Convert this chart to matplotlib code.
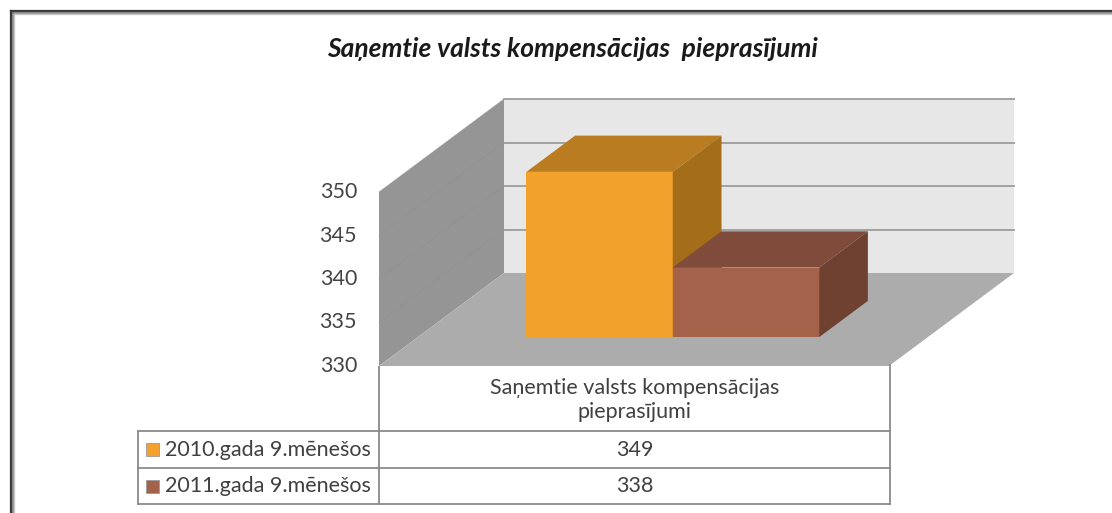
import matplotlib
matplotlib.use("Agg")
import matplotlib.pyplot as plt
from matplotlib.patches import Polygon, Rectangle

plt.rcParams['font.family'] = ['Lato', 'DejaVu Sans']

# ---------------- data ----------------
title = "Saņemtie valsts kompensācijas  pieprasījumi"
category = "Saņemtie valsts kompensācijas\npieprasījumi"
series_names = ["2010.gada 9.mēnešos", "2011.gada 9.mēnešos"]
values = [349, 338]
y_ticks = [330, 335, 340, 345, 350]

front_colors = ["#F2A12C", "#A5624B"]
top_colors = ["#BA7C20", "#7F4B3A"]
side_colors = ["#A36D1A", "#6E4131"]

# ---------------- geometry (pseudo 3D projection) ----------------
W, H = 1112, 513
fig = plt.figure(figsize=(W / 100, H / 100), dpi=100)
fig.patch.set_facecolor("white")

ax = fig.add_axes([0, 0, 1, 1])
ax.set_axis_off()
PX_X = 510.0      # pixels per category unit
PX_V = 8.7        # pixels per value unit
X0_PX, V0_PX = 379.0, 366.0   # pixel position of (x=0, v=330, depth=0)
vmin, vmax = y_ticks[0], y_ticks[-1]
ax.set_xlim(-X0_PX / PX_X, (W - X0_PX) / PX_X)
ax.set_ylim(vmin - (H - V0_PX) / PX_V, vmin + V0_PX / PX_V)

DX = 125.0 / PX_X   # depth offset in category units
DV = 93.0 / PX_V    # depth offset in value units


def P(x, v, d):
    return (x + d * DX, v + d * DV)


def poly(pts, fc, ec="none", lw=0, z=1):
    ax.add_patch(Polygon(pts, closed=True, facecolor=fc, edgecolor=ec, linewidth=lw, zorder=z))


# back wall
poly([P(0, vmin, 1), P(1, vmin, 1), P(1, vmax, 1), P(0, vmax, 1)], "#E7E7E7", z=1)
# side wall
poly([P(0, vmin, 0), P(0, vmin, 1), P(0, vmax, 1), P(0, vmax, 0)], "#959595", z=1)
# floor
poly([P(0, vmin, 0), P(1, vmin, 0), P(1, vmin, 1), P(0, vmin, 1)], "#ACACAC", z=1)

# gridlines on back wall and faint on side wall
for t in y_ticks[1:]:
    xa, ya = P(0, t, 1)
    xb, yb = P(1, t, 1)
    ax.plot([xa, xb], [ya, yb], color="#9C9C9C", lw=1.3, zorder=2)
    xc, yc = P(0, t, 0)
    ax.plot([xc, xa], [yc, ya], color="#8F8F8F", lw=0.6, alpha=0.5, zorder=2)

# bars
n = len(values)
bw = 0.287
d0, d1 = 0.31, 0.70
for i, v in enumerate(values):
    xl = 0.5 + (i - (n - 1) / 2) * bw - bw / 2
    xr = xl + bw
    z = 5 + i
    poly([P(xl, vmin, d0), P(xr, vmin, d0), P(xr, v, d0), P(xl, v, d0)], front_colors[i], z=z)
    poly([P(xl, v, d0), P(xr, v, d0), P(xr, v, d1), P(xl, v, d1)], top_colors[i], z=z)
    poly([P(xr, vmin, d0), P(xr, vmin, d1), P(xr, v, d1), P(xr, v, d0)], side_colors[i], z=z)

# tick labels
for t in y_ticks:
    x, y = P(-22 / PX_X, t, 0)
    ax.text(x, y, str(t), ha="right", va="center", fontsize=15.5, color="#444444", zorder=10)

# ---------------- overlay for frame, title and data table ----------------
ov = fig.add_axes([0, 0, 1, 1], facecolor="none")
ov.set_axis_off()
ov.set_xlim(0, W)
ov.set_ylim(H, 0)

for off, col, lw in [(0, "#3A3A3A", 1.6), (1.5, "#7A7A7A", 1.2), (3, "#C8C8C8", 1.0)]:
    ov.plot([11 + off, 11 + off], [11 + off, H], color=col, lw=lw)
    ov.plot([11 + off, W], [11 + off, 11 + off], color=col, lw=lw)

ov.text(572, 49, title, ha="center", va="center", fontsize=19, fontweight="bold",
        fontstyle="italic", color="#1A1A1A")

lc = "#8A8A8A"
tl = 1.3
x_left, x_mid, x_right = 138, 379, 890
y_top, y_h, y_r1, y_r2 = 367, 431, 468, 504
ov.plot([x_mid, x_mid], [y_top, y_r2], color=lc, lw=tl)
ov.plot([x_right, x_right], [y_top - 2, y_r2], color=lc, lw=tl)
ov.plot([x_left, x_left], [y_h, y_r2], color=lc, lw=tl)
for yy in (y_h, y_r1, y_r2):
    ov.plot([x_left, x_right], [yy, yy], color=lc, lw=tl)

cx = (x_mid + x_right) / 2
ov.text(cx, (y_top + y_h) / 2 + 1, category, ha="center", va="center", fontsize=15.5,
        color="#404040", linespacing=1.2)
rows_y = [(y_h + y_r1) / 2, (y_r1 + y_r2) / 2]
for i, (name, v) in enumerate(zip(series_names, values)):
    yy = rows_y[i]
    ov.add_patch(Rectangle((146, yy - 6.5), 13, 13, facecolor=front_colors[i],
                           edgecolor="#9A9A9A", lw=0.6))
    ov.text(165, yy, name, ha="left", va="center", fontsize=15.5, color="#404040")
    ov.text(cx, yy, str(v), ha="center", va="center", fontsize=15.5, color="#404040")

fig.savefig("out.png", dpi=100)
